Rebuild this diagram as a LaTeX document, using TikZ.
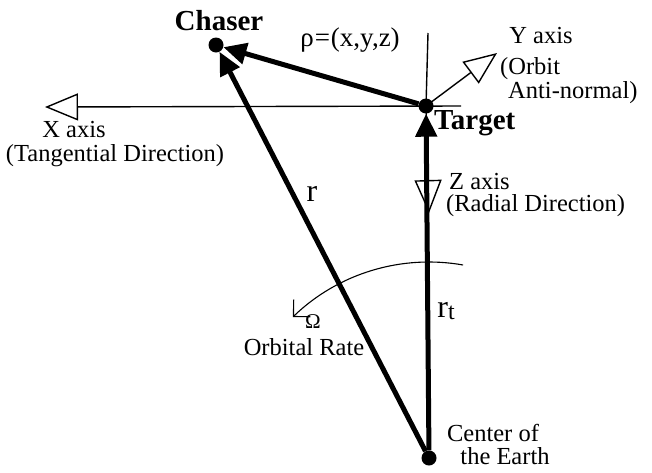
\documentclass[tikz,border=0pt]{standalone}
\usepackage{fontspec}
\setmainfont{Liberation Serif}
\usetikzlibrary{arrows.meta}

\begin{document}
\begin{tikzpicture}[x=1pt,y=-1pt,
    dot/.style={circle,fill=black,inner sep=0pt,minimum size=15pt},
    vec/.style={line width=5pt,-{Triangle[length=23pt,width=21pt]}},
    axis/.style={line width=1.4pt,-{Triangle[open,length=33pt,width=27pt,line width=1.4pt]}},
    lab/.style={inner sep=0pt,font=\fontsize{24.5}{26}\selectfont},
    blab/.style={inner sep=0pt,font=\fontsize{29}{30}\selectfont\bfseries}]
  \useasboundingbox (0,0) rectangle (652,472);

  % the three bodies
  \node[dot] (chaser) at (216,45) {};
  \node[dot] (target) at (426,106) {};
  \node[dot] (earth) at (429,458) {};

  % free ends of the axes
  \coordinate (ztop) at (428,33);
  \coordinate (xstart) at (461,106);
  \coordinate (xend) at (45,107);
  \coordinate (yend) at (497,53);
  \coordinate (zend) at (429,213);

  \draw[line width=1.4pt] (ztop) -- (target.center);
  \draw[axis] (xstart) -- (xend);
  \draw[axis] (target.center) -- (yend);

  % position vectors
  \draw[vec] (earth) -- (target);
  \draw[vec] (earth) -- (chaser);
  \draw[vec] (target) -- (chaser);
  \draw[axis] (target.center) -- (zend);

  % orbital rate
  \draw[line width=1.1pt,-{Straight Barb[length=12pt,width=24pt,line width=1.1pt]}]
    ([shift={(-80:196)}]earth.center) arc[start angle=-80,end angle=-134,radius=196];

  \node[blab] (chaserlbl) at (219,21) {Chaser};
  \node[lab,font=\fontsize{27}{28}\selectfont] (rholbl) at (350,40) {ρ\kern1pt=\kern1pt(x,y,z)};
  \node[lab] (ylbl) at (541,36) {Y axis};
  \node[lab,anchor=west] (ylbla) at (500,69) {(Orbit};
  \node[lab,anchor=west] (ylblb) at (508,93) {Anti-normal)};
  \node[blab,anchor=west] (targetlbl) at (434,123) {Target};
  \node[lab,text depth=0pt] (xlbl) at (74,129) {X axis};
  \node[lab] (xlbla) at (115,156) {(Tangential Direction)};
  \node[lab,anchor=west,text depth=0pt] (zlbl) at (449,181) {Z axis};
  \node[lab,anchor=west] (zlbla) at (446,206) {(Radial Direction)};
  \node[lab,font=\fontsize{32}{32}\selectfont] (rlbl) at (312,194) {r};
  \node[lab,font=\fontsize{32}{32}\selectfont] (rtlbl) at (446,311) {r{\fontsize{24}{24}\selectfont\raisebox{-2pt}{t}}};
  \node[lab,font=\fontsize{21}{21}\selectfont] (omegalbl) at (313,322) {Ω};
  \node[lab] (ratelbl) at (304,347) {Orbital Rate};
  \node[lab] (earthlbl) at (493,433) {Center of};
  \node[lab] (earthlbla) at (505,456) {the Earth};
\end{tikzpicture}
\end{document}
